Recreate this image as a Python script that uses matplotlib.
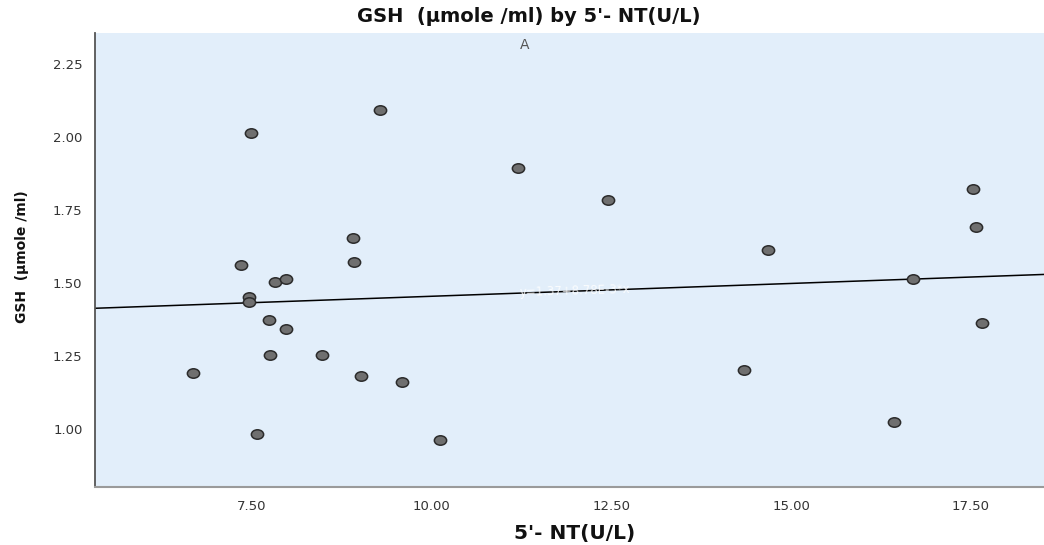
import numpy as np
import matplotlib
matplotlib.use("Agg")
import matplotlib.pyplot as plt
from matplotlib.markers import MarkerStyle
from matplotlib.transforms import Affine2D

# ---- data ----
nt_values = [6.68, 7.49, 7.35, 7.46, 7.46, 7.57, 7.74, 7.75, 7.82, 7.98,
             7.98, 8.48, 8.91, 8.92, 9.02, 9.28, 9.59, 10.12, 11.20, 12.46,
             14.35, 14.68, 16.43, 16.70, 17.53, 17.57, 17.65]
gsh_values = [1.192, 2.014, 1.562, 1.452, 1.435, 0.983, 1.373, 1.253, 1.503, 1.514,
              1.342, 1.253, 1.654, 1.572, 1.182, 2.092, 1.161, 0.962, 1.894, 1.784,
              1.202, 1.613, 1.024, 1.514, 1.822, 1.692, 1.363]
x_ticks = [7.5, 10.0, 12.5, 15.0, 17.5]
y_ticks = [1.00, 1.25, 1.50, 1.75, 2.00, 2.25]

title = "GSH  (µmole /ml) by 5'- NT(U/L)"
x_label = "5'- NT(U/L)"
y_label = "GSH  (µmole /ml)"

plt.rcParams['font.family'] = ['DejaVu Sans']

W, H = 1044, 545
fig = plt.figure(figsize=(W / 100, H / 100), dpi=100)
left, right, top, bottom = 95, 1055, 33, 487
ax = fig.add_axes([left / W, 1 - bottom / H, (right - left) / W, (bottom - top) / H])
ax.set_facecolor('#E2EEFA')

ax.set_xlim(5.32, 18.67)
ax.set_ylim(0.801, 2.356)

x = np.array(nt_values)
y = np.array(gsh_values)

mk = MarkerStyle('o', transform=Affine2D().scale(1.3, 1.0))
ax.scatter(x, y, marker=mk, s=46, facecolor='#6F6F6F', edgecolor='#2B2B2B',
           linewidths=1.1, zorder=3)

# linear fit line
slope, intercept = np.polyfit(x, y, 1)
xl = np.array(ax.get_xlim())
ax.plot(xl, intercept + slope * xl, color='black', lw=1.1, zorder=2)

# faint fit equation along the line (white, as in the reference)
xm = 12.0
ax.text(xm, intercept + slope * xm, f"y={intercept:.2f}+{slope*1000:.2f}E-3*x",
        color='white', fontsize=8.5, ha='center', va='center', rotation=1.6,
        alpha=0.85, zorder=2.5)

ax.set_xticks(x_ticks)
ax.set_xticklabels([f"{v:.2f}" for v in x_ticks])
ax.set_yticks(y_ticks)
ax.set_yticklabels([f"{v:.2f}" for v in y_ticks])
ax.tick_params(axis='both', length=0, labelsize=9.5, colors='#333333')
ax.tick_params(axis='x', pad=9)
ax.tick_params(axis='y', pad=9)

for s in ['top', 'right']:
    ax.spines[s].set_visible(False)
ax.spines['left'].set_color('#555555')
ax.spines['left'].set_linewidth(1.3)
ax.spines['bottom'].set_color('#9A9A9A')
ax.spines['bottom'].set_linewidth(1.5)

fig.text(529 / W, 1 - 17 / H, title, ha='center', va='center',
         fontsize=14, fontweight='bold', color='#111111')
fig.text(525 / W, 1 - 45 / H, "A", ha='center', va='center',
         fontsize=10, color='#555555')
fig.text(575 / W, 1 - 533 / H, x_label, ha='center', va='center',
         fontsize=14.5, fontweight='bold', color='#111111')
fig.text(22 / W, 1 - 257 / H, y_label, ha='center', va='center', rotation=90,
         fontsize=10, fontweight='bold', color='#111111')

fig.savefig('out.png', dpi=100)
